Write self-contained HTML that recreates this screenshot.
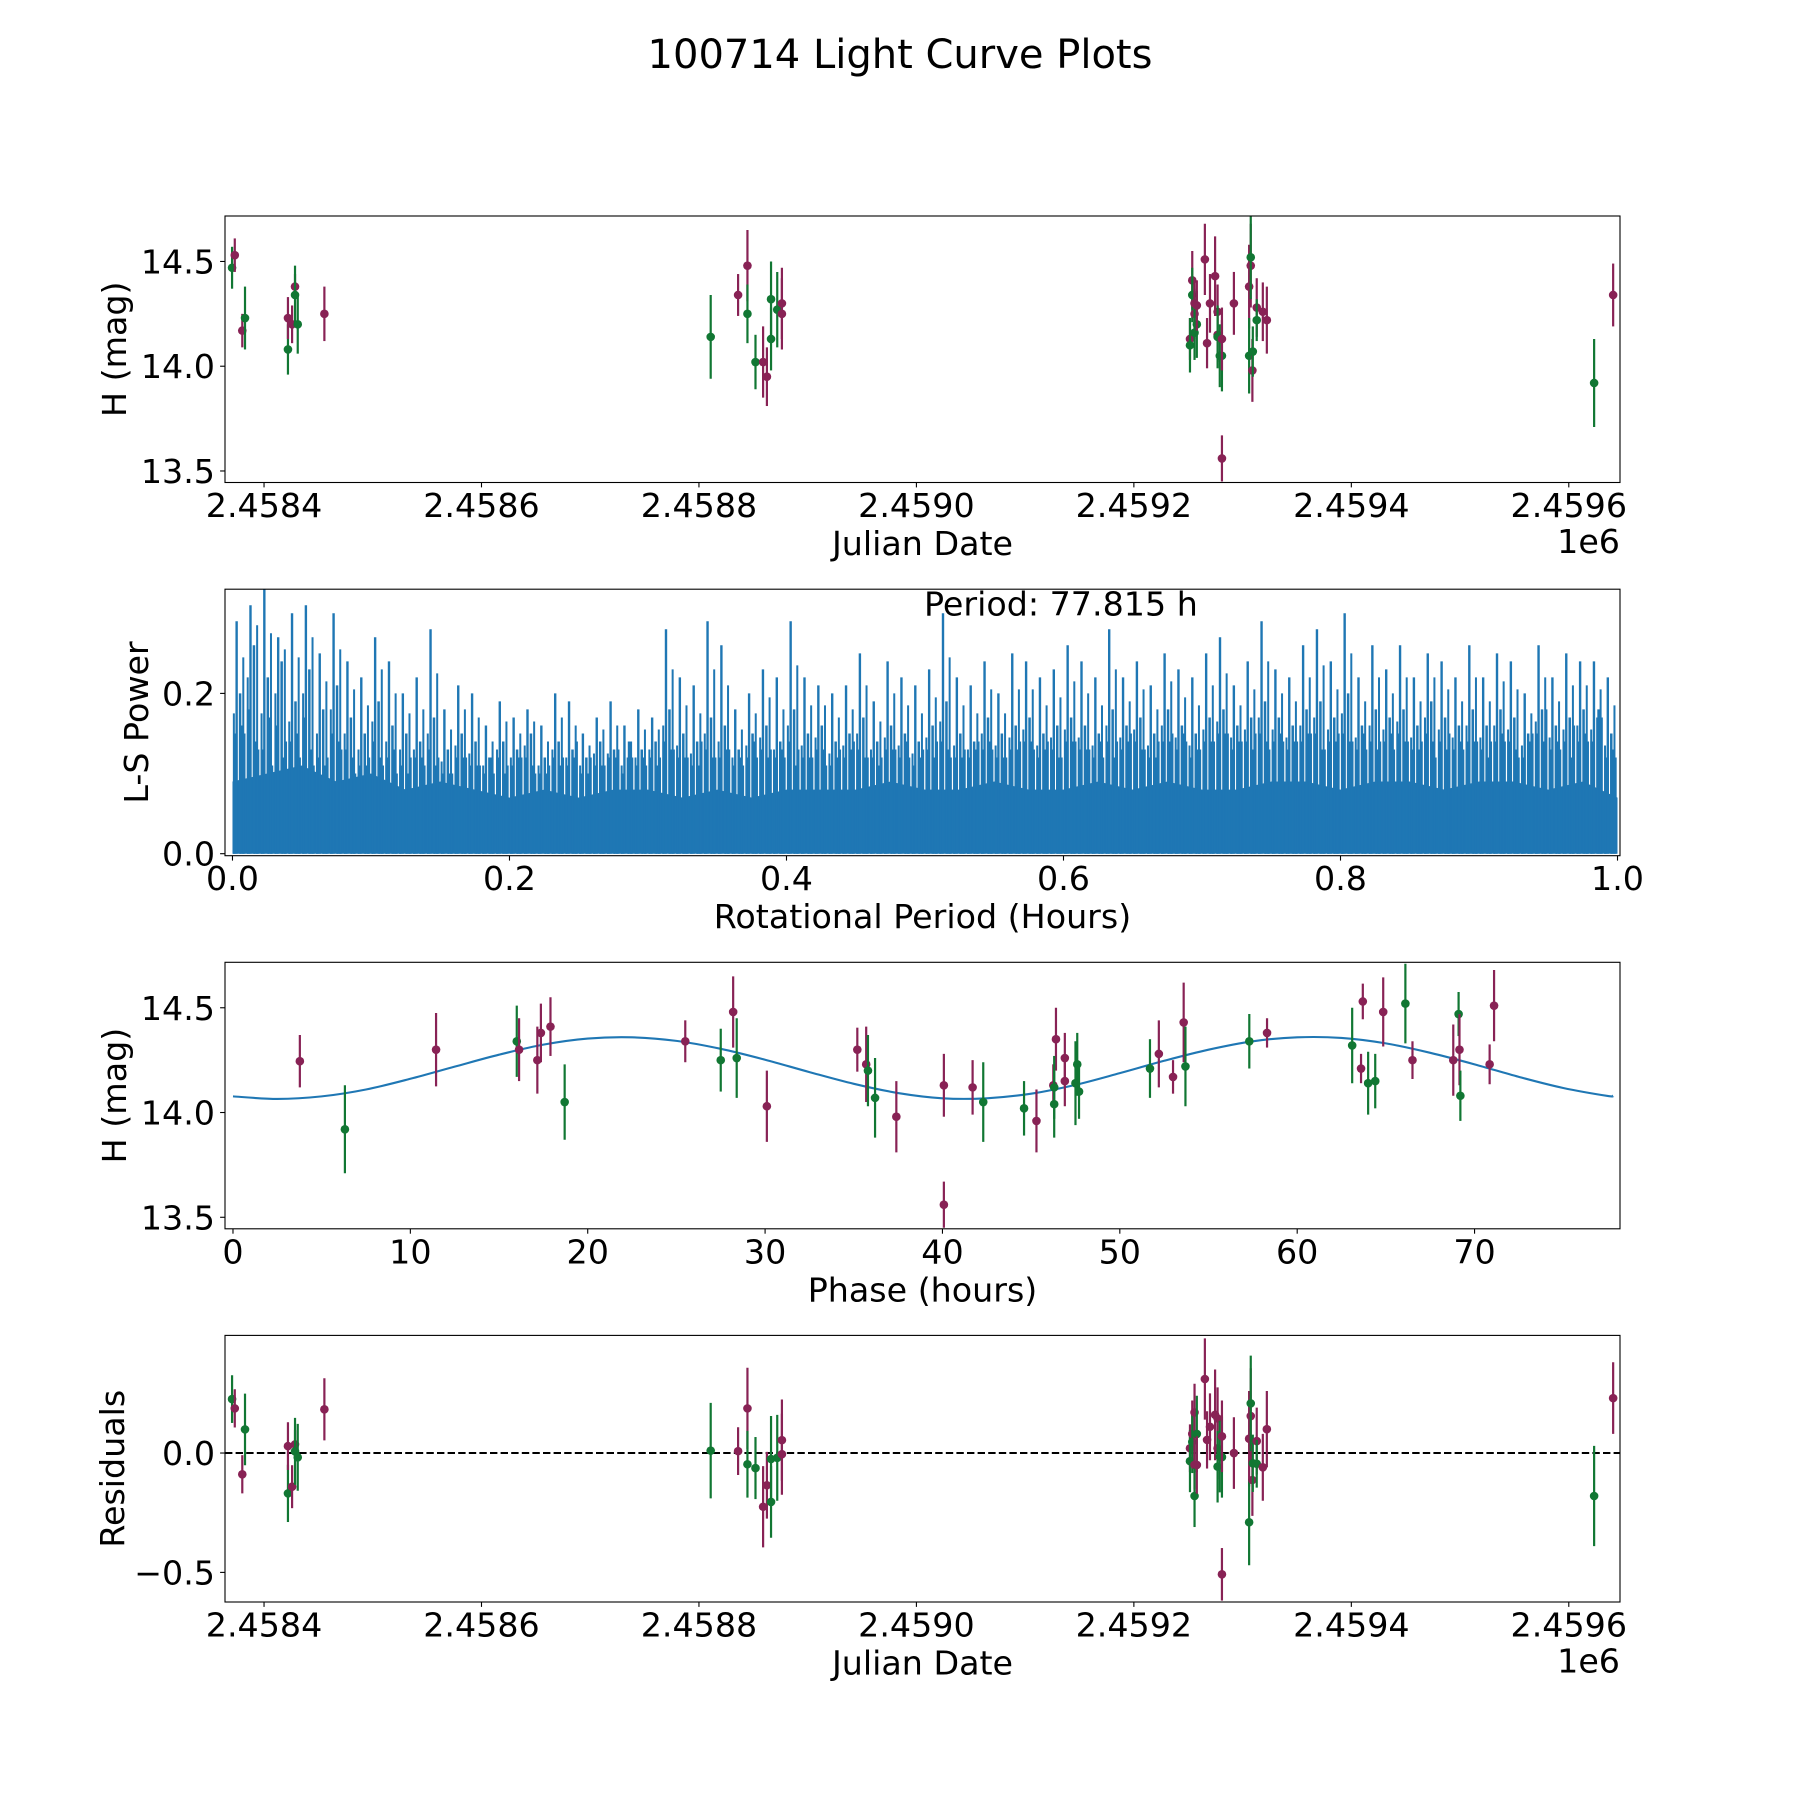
<!DOCTYPE html>
<html>
<head>
<meta charset="utf-8">
<style>
  html, body { margin:0; padding:0; background:#fff; }
  svg { display:block; }
  text { font-family: "DejaVu Sans", "Liberation Sans", sans-serif; fill:#000; }
</style>
</head>
<body>
<svg id="fig" width="1800" height="1800" viewBox="0 0 1800 1800" xmlns="http://www.w3.org/2000/svg">
  <rect x="0" y="0" width="1800" height="1800" fill="#ffffff"/>
  <text x="900" y="68" font-size="40" text-anchor="middle">100714 Light Curve Plots</text>
  <g id="layer"></g>
</svg>
<script>
// ---------- Data: light curve (Julian date plots) ----------
const obsBand = ['g','p','p','g','g','p','p','p','g','g','p','g','p','p','g','g','p','p','g','g','g','p','p','p','g','p','g','p','p','g','g','p','p','p','p','p','p','p','g','g','g','p','p','p','p','g','p','g','p','g','p','g','p','p','g','p'];
const obsJD = [2458370.6,2458373.1,2458380.0,2458382.5,2458422.0,2458422.0,2458425.8,2458428.5,2458428.5,2458431.0,2458455.5,2458810.8,2458836.0,2458844.6,2458844.6,2458852.0,2458859.0,2458862.5,2458866.3,2458866.3,2458872.0,2458876.3,2458876.3,2459251.6,2459251.6,2459253.7,2459253.7,2459255.8,2459255.8,2459255.8,2459257.9,2459257.9,2459265.3,2459267.3,2459270.0,2459274.7,2459277.0,2459277.0,2459277.0,2459279.0,2459281.0,2459281.0,2459281.0,2459292.0,2459306.0,2459306.0,2459307.5,2459307.5,2459309.0,2459309.4,2459313.0,2459313.0,2459318.6,2459322.3,2459623.3,2459640.8];
const obsMag = [14.47,14.53,14.17,14.23,14.08,14.23,14.20,14.38,14.34,14.20,14.25,14.14,14.34,14.48,14.25,14.02,14.02,13.95,14.32,14.13,14.27,14.30,14.25,14.13,14.10,14.41,14.34,14.30,14.25,14.16,14.20,14.29,14.51,14.11,14.30,14.43,14.26,14.15,14.14,14.05,14.05,14.13,13.56,14.30,14.38,14.05,14.48,14.52,13.98,14.07,14.28,14.22,14.26,14.22,13.92,14.34];
const obsErr = [0.10,0.08,0.08,0.15,0.12,0.10,0.09,0.06,0.14,0.14,0.13,0.20,0.10,0.17,0.14,0.13,0.17,0.14,0.18,0.15,0.18,0.17,0.17,0.10,0.13,0.14,0.13,0.10,0.12,0.13,0.16,0.12,0.17,0.12,0.14,0.19,0.13,0.13,0.15,0.15,0.17,0.15,0.11,0.15,0.20,0.18,0.20,0.20,0.15,0.12,0.14,0.10,0.14,0.16,0.21,0.15];
const obsResid = [0.226,0.187,-0.089,0.099,-0.169,0.029,-0.141,0.036,0.007,-0.018,0.183,0.01,0.008,0.187,-0.047,-0.063,-0.225,-0.135,-0.025,-0.205,-0.02,0.054,-0.005,0.02,-0.034,0.08,0.046,-0.05,0.17,-0.18,0.08,-0.05,0.31,0.055,0.11,0.16,0.02,0.145,-0.057,-0.015,-0.017,0.07,-0.508,0.0,0.06,-0.29,0.155,0.208,-0.113,-0.043,0.05,-0.045,-0.06,0.1,-0.18,0.23];

// ---------- Data: phase-folded plot ----------
const phBand = ['p','g','p','g','p','p','p','p','g','p','g','g','p','p','p','p','g','g','p','p','p','p','g','g','p','p','g','p','g','p','p','g','g','g','g','p','p','p','g','g','p','g','p','p','g','g','p','g','p','p','g','p','g','p','p'];
const phX = [3.77,6.31,11.45,16.0,16.13,17.16,17.36,17.9,18.7,25.5,27.5,28.4,28.2,30.1,35.2,35.7,35.8,36.2,37.4,40.08,40.08,41.7,42.3,44.6,45.3,46.25,46.3,46.4,46.3,46.9,46.9,47.6,47.5,47.7,51.7,52.2,53.0,53.6,53.7,57.3,58.3,63.1,63.7,63.6,64.0,64.4,64.85,66.1,66.5,68.8,69.1,69.15,69.2,70.85,71.1];
const phMag = [14.245,13.92,14.30,14.34,14.30,14.25,14.38,14.41,14.05,14.34,14.25,14.26,14.48,14.03,14.30,14.23,14.20,14.07,13.98,14.13,13.56,14.12,14.05,14.02,13.96,14.13,14.04,14.35,14.12,14.26,14.15,14.23,14.14,14.10,14.21,14.28,14.17,14.43,14.22,14.34,14.38,14.32,14.53,14.21,14.14,14.15,14.48,14.52,14.25,14.25,14.47,14.30,14.08,14.23,14.51];
const phErr = [0.125,0.21,0.175,0.17,0.15,0.16,0.14,0.14,0.18,0.10,0.15,0.19,0.17,0.17,0.105,0.18,0.17,0.19,0.17,0.15,0.11,0.13,0.19,0.13,0.15,0.10,0.16,0.15,0.15,0.12,0.12,0.15,0.20,0.13,0.14,0.16,0.08,0.19,0.19,0.13,0.07,0.18,0.085,0.07,0.15,0.13,0.165,0.19,0.09,0.17,0.105,0.17,0.12,0.095,0.17];
const modelPhase = [0,2.5,5,7.5,10,12.5,15,17.5,20,22.5,25,27.5,30,32.5,35,37.5,40,42.5,45,47.5,50,52.5,55,57.5,60,62.5,65,67.5,70,72.5,75,77.5,77.8];
const modelMag = [14.077,14.065,14.077,14.110,14.161,14.219,14.276,14.324,14.353,14.359,14.342,14.304,14.252,14.193,14.137,14.093,14.068,14.068,14.090,14.132,14.188,14.247,14.300,14.340,14.359,14.356,14.330,14.285,14.230,14.170,14.117,14.079,14.080];

// ---------- Data: periodogram ----------
const lsPeaks = [0.29,0.31,0.33,0.27,0.30,0.31,0.25,0.30,0.24,0.22,
                 0.27,0.24,0.20,0.22,0.28,0.18,0.21,0.20,0.16,0.19,
                 0.17,0.18,0.16,0.20,0.19,0.15,0.17,0.19,0.16,0.18,
                 0.17,0.28,0.22,0.21,0.29,0.26,0.18,0.20,0.23,0.22,
                 0.29,0.22,0.21,0.20,0.21,0.25,0.19,0.24,0.22,0.21,
                 0.23,0.30,0.22,0.21,0.24,0.20,0.25,0.24,0.22,0.23,
                 0.26,0.24,0.22,0.28,0.22,0.24,0.21,0.25,0.23,0.22,
                 0.25,0.27,0.21,0.24,0.29,0.23,0.22,0.26,0.28,0.24,
                 0.30,0.22,0.26,0.23,0.26,0.22,0.25,0.24,0.22,0.26,
                 0.22,0.25,0.24,0.20,0.26,0.22,0.25,0.24,0.24,0.22];
const lsSecondary = [0.20,0.26,0.22,0.24,0.19,0.23,0.18,0.21,0.17,0.15,
                     0.19,0.16,0.15,0.14,0.17,0.13,0.15,0.14,0.12,0.14,
                     0.13,0.15,0.12,0.14,0.13,0.12,0.14,0.13,0.12,0.13,
                     0.14,0.18,0.15,0.14,0.17,0.16,0.13,0.15,0.16,0.14,
                     0.18,0.15,0.16,0.14,0.15,0.17,0.14,0.16,0.15,0.14,
                     0.16,0.19,0.15,0.14,0.17,0.15,0.16,0.17,0.15,0.16,
                     0.17,0.16,0.15,0.18,0.16,0.17,0.15,0.18,0.16,0.15,
                     0.17,0.18,0.16,0.17,0.19,0.17,0.16,0.18,0.19,0.17,
                     0.20,0.16,0.18,0.17,0.18,0.16,0.19,0.17,0.16,0.18,
                     0.16,0.18,0.17,0.15,0.18,0.16,0.17,0.18,0.17,0.15];
const lsTertiary = [0.15,0.18,0.13,0.16,0.14,0.17,0.12,0.15,0.13,0.11,
                    0.14,0.12,0.11,0.12,0.13,0.10,0.12,0.11,0.10,0.12,
                    0.11,0.12,0.10,0.12,0.11,0.10,0.11,0.12,0.10,0.11,
                    0.12,0.14,0.12,0.11,0.13,0.12,0.11,0.12,0.13,0.12,
                    0.14,0.12,0.13,0.11,0.12,0.13,0.12,0.13,0.12,0.11,
                    0.13,0.14,0.12,0.12,0.13,0.12,0.13,0.14,0.12,0.13,
                    0.14,0.13,0.12,0.14,0.13,0.14,0.12,0.14,0.13,0.12,
                    0.14,0.15,0.13,0.14,0.15,0.14,0.13,0.14,0.15,0.14,
                    0.15,0.13,0.14,0.14,0.15,0.13,0.15,0.14,0.13,0.14,
                    0.13,0.14,0.14,0.12,0.15,0.13,0.14,0.14,0.14,0.12];
const lsBase = [0.09,0.10,0.11,0.09,0.10,0.08,0.09,0.08,0.07,0.08,0.07,0.08,0.08,0.07,0.08,0.07,0.08,0.08,0.08,0.09,0.08,
                0.08,0.09,0.08,0.08,0.09,0.08,0.09,0.08,0.08,0.09,0.09,0.08,0.09,0.09,0.08,0.09,0.09,0.08,0.09,0.07];

// ---------- Tick labels ----------
const jdTicks = [2458400,2458600,2458800,2459000,2459200,2459400,2459600];
const jdTickLabels = ['2.4584','2.4586','2.4588','2.4590','2.4592','2.4594','2.4596'];
const magTicks = [13.5,14.0,14.5];
const magTickLabels = ['13.5','14.0','14.5'];
const lsXTicks = [0,0.2,0.4,0.6,0.8,1.0];
const lsXTickLabels = ['0.0','0.2','0.4','0.6','0.8','1.0'];
const lsYTicks = [0,0.2];
const lsYTickLabels = ['0.0','0.2'];
const phTicks = [0,10,20,30,40,50,60,70];
const phTickLabels = ['0','10','20','30','40','50','60','70'];
const resTicks = [-0.5,0.0];
const resTickLabels = ['\u22120.5','0.0'];

const NS = 'http://www.w3.org/2000/svg';
const layer = document.getElementById('layer');
const COL = {p:'#882255', g:'#117733'};
const LEFT = 225, RIGHT = 1620, FS = 33.3;

function mk(tag, attrs, parent) {
  const el = document.createElementNS(NS, tag);
  for (const k in attrs) el.setAttribute(k, attrs[k]);
  (parent || layer).appendChild(el);
  return el;
}

function makeAxes(id, top, bottom, xdom, ydom) {
  const g = mk('g', {});
  
  
  const cp = mk('clipPath', {id: id + '-clip'}, g);
  mk('rect', {x: LEFT, y: top, width: RIGHT - LEFT, height: bottom - top}, cp);
  const sx = v => LEFT + (v - xdom[0]) / (xdom[1] - xdom[0]) * (RIGHT - LEFT);
  const sy = v => bottom - (v - ydom[0]) / (ydom[1] - ydom[0]) * (bottom - top);
  const plot = mk('g', {'clip-path': 'url(#' + id + '-clip)'}, g);
  
  
  return {g, plot, sx, sy, top, bottom, id};
}

function frame(ax) {
  const r = mk('rect', {x: LEFT, y: ax.top, width: RIGHT - LEFT, height: ax.bottom - ax.top, fill: 'none', stroke: '#000', 'stroke-width': 1.1}, ax.g);
  
  
}

function xTicks(ax, vals, labels) {
  vals.forEach((v, i) => {
    const x = ax.sx(v);
    const t = mk('line', {x1: x, x2: x, y1: ax.bottom, y2: ax.bottom + 4.9, stroke: '#000', 'stroke-width': 1.1}, ax.g);
    
    
    const lb = mk('text', {x: x, y: ax.bottom + 34.5, 'font-size': FS, 'text-anchor': 'middle'}, ax.g);
    lb.textContent = labels[i];
    
    
  });
}

function yTicks(ax, vals, labels) {
  vals.forEach((v, i) => {
    const y = ax.sy(v);
    const t = mk('line', {x1: LEFT - 4.9, x2: LEFT, y1: y, y2: y, stroke: '#000', 'stroke-width': 1.1}, ax.g);
    
    
    const lb = mk('text', {x: LEFT - 10, y: y + 12, 'font-size': FS, 'text-anchor': 'end'}, ax.g);
    lb.textContent = labels[i];
    
    
  });
}

function xLabel(ax, txt) {
  const t = mk('text', {x: (LEFT + RIGHT) / 2, y: ax.bottom + 72.5, 'font-size': FS, 'text-anchor': 'middle'}, ax.g);
  t.textContent = txt;
  
  
}

function yLabel(ax, txt, bx) {
  const cy = (ax.top + ax.bottom) / 2;
  const t = mk('text', {x: bx, y: cy, 'font-size': FS, 'text-anchor': 'middle', transform: 'rotate(-90 ' + bx + ' ' + cy + ')'}, ax.g);
  t.textContent = txt;
  
  
}

function offsetText(ax) {
  const t = mk('text', {x: RIGHT, y: ax.bottom + 70.5, 'font-size': FS, 'text-anchor': 'end'}, ax.g);
  t.textContent = '1e6';
  
  
}

function errPoints(ax, xs, ys, es, bands, name) {
  for (let i = 0; i < xs.length; i++) {
    const x = ax.sx(xs[i]), c = COL[bands[i]];
    const l = mk('line', {x1: x, x2: x, y1: ax.sy(ys[i] - es[i]), y2: ax.sy(ys[i] + es[i]), stroke: c, 'stroke-width': 2.2}, ax.plot);
    
    
    const d = mk('circle', {cx: x, cy: ax.sy(ys[i]), r: 4.3, fill: c}, ax.plot);
    
    
  }
}

function spike(ax, xv, hv, w, name) {
  const x = ax.sx(xv);
  const s = mk('line', {x1: x, x2: x, y1: ax.sy(0), y2: ax.sy(hv), stroke: '#1f77b4', 'stroke-width': w}, ax.plot);
  
  
}

// ---- Panel 1: light curve vs Julian date ----
const jdDom = [2458364.1, 2459647.1];
const magDom = [13.445, 14.717];
const a1 = makeAxes('lightcurve', 216, 482.5, jdDom, magDom);
errPoints(a1, obsJD, obsMag, obsErr, obsBand, 'lightcurve');
frame(a1);
xTicks(a1, jdTicks, jdTickLabels);
yTicks(a1, magTicks, magTickLabels);
xLabel(a1, 'Julian Date');
yLabel(a1, 'H (mag)', 126);
offsetText(a1);

// ---- Panel 2: periodogram ----
const a2 = makeAxes('periodogram', 589.2, 855.7, [-0.0054, 1.0018], [-0.0025, 0.33]);
{
  let pts = [];
  const n = lsBase.length;
  for (let i = 0; i < n; i++) pts.push(a2.sx(i / (n - 1)) + ',' + a2.sy(lsBase[i]));
  pts.push(a2.sx(1) + ',' + a2.sy(0));
  pts.push(a2.sx(0) + ',' + a2.sy(0));
  const base = mk('polygon', {points: pts.join(' '), fill: '#1f77b4'}, a2.plot);
  
  
  const N = lsPeaks.length;
  for (let i = 0; i < N; i++) {
    spike(a2, i / N + 0.0015, lsTertiary[i], 3, 'periodogram-minor-peak');
    spike(a2, i / N + 0.0065, lsTertiary[(i + 3) % N], 3, 'periodogram-minor-peak');
    spike(a2, i / N + 0.0085, lsTertiary[(i + 7) % N], 2.5, 'periodogram-minor-peak');
  }
  for (let i = 0; i < N; i++) {
    spike(a2, i / N + 0.0055, lsSecondary[i], 2.5, 'periodogram-secondary-peak');
    spike(a2, i / N + 0.0010, (lsSecondary[i] + lsTertiary[i]) / 2, 2, 'periodogram-secondary-peak');
  }
  for (let i = 0; i < N; i++) {
    spike(a2, i / N + 0.003, lsPeaks[i], 2.4, 'periodogram-peak');
    spike(a2, i / N + 0.0078, (lsPeaks[i] + lsSecondary[i]) / 2, 2, 'periodogram-peak');
  }
}
frame(a2);
xTicks(a2, lsXTicks, lsXTickLabels);
yTicks(a2, lsYTicks, lsYTickLabels);
xLabel(a2, 'Rotational Period (Hours)');
yLabel(a2, 'L-S Power', 148);
{
  const t = mk('text', {x: 924, y: 615.5, 'font-size': FS}, a2.g);
  t.textContent = 'Period: 77.815 h';
  
  
}

// ---- Panel 3: phase-folded ----
const a3 = makeAxes('phase', 962.3, 1228.8, [-0.45, 78.2], magDom);
{
  const P = modelPhase.map((v, i) => [a3.sx(v), a3.sy(modelMag[i])]);
  let d = 'M' + P[0][0] + ',' + P[0][1];
  for (let i = 0; i < P.length - 1; i++) {
    const p0 = P[Math.max(0, i - 1)], p1 = P[i], p2 = P[i + 1], p3 = P[Math.min(P.length - 1, i + 2)];
    const c1x = p1[0] + (p2[0] - p0[0]) / 6, c1y = p1[1] + (p2[1] - p0[1]) / 6;
    const c2x = p2[0] - (p3[0] - p1[0]) / 6, c2y = p2[1] - (p3[1] - p1[1]) / 6;
    d += ' C' + c1x + ',' + c1y + ' ' + c2x + ',' + c2y + ' ' + p2[0] + ',' + p2[1];
  }
  const m = mk('path', {d: d, fill: 'none', stroke: '#1f77b4', 'stroke-width': 2.1}, a3.plot);
  
  
}
errPoints(a3, phX, phMag, phErr, phBand, 'phase');
frame(a3);
xTicks(a3, phTicks, phTickLabels);
yTicks(a3, magTicks, magTickLabels);
xLabel(a3, 'Phase (hours)');
yLabel(a3, 'H (mag)', 126);

// ---- Panel 4: residuals ----
const a4 = makeAxes('residuals', 1335.4, 1602, jdDom, [-0.624, 0.4927]);
{
  const z = mk('line', {x1: LEFT, x2: RIGHT, y1: a4.sy(0), y2: a4.sy(0), stroke: '#000', 'stroke-width': 2, 'stroke-dasharray': '7.4,3.2'}, a4.plot);
  
  
}
errPoints(a4, obsJD, obsResid, obsErr, obsBand, 'residual');
frame(a4);
xTicks(a4, jdTicks, jdTickLabels);
yTicks(a4, resTicks, resTickLabels);
xLabel(a4, 'Julian Date');
yLabel(a4, 'Residuals', 124);
offsetText(a4);
</script>
</body>
</html>
